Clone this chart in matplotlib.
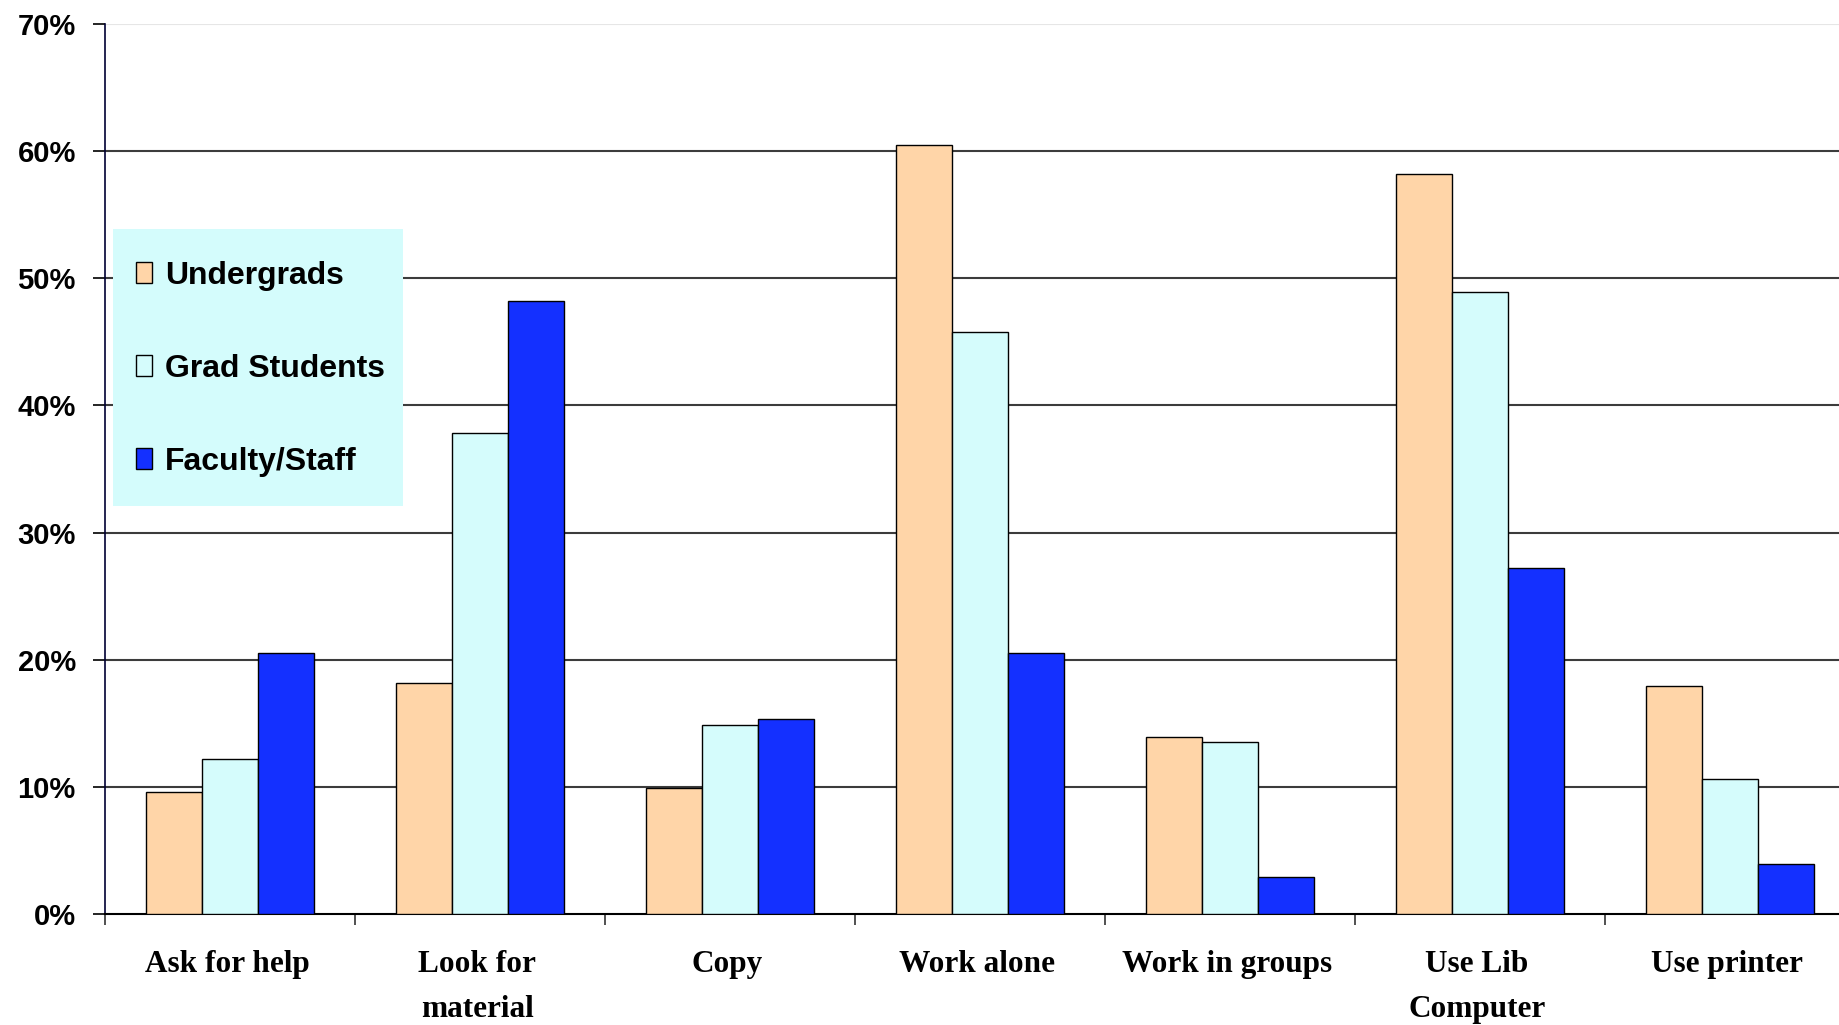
"""
library_use_chart.py
"""

import numpy as np

import matplotlib.pyplot as plt
from matplotlib.patches import Rectangle
from matplotlib.ticker import PercentFormatter, FixedLocator
from matplotlib.transforms import ScaledTranslation


categories = [
    "Ask for help",
    "Look for\nmaterial",
    "Copy",
    "Work alone",
    "Work in groups",
    "Use Lib\nComputer",
    "Use printer",
]

undergrads = [9.6, 18.2, 9.9, 60.5, 13.9, 58.2, 17.9]
grad_students = [12.2, 37.8, 14.9, 45.8, 13.5, 48.9, 10.6]
faculty_staff = [20.5, 48.2, 15.3, 20.5, 2.9, 27.2, 3.9]

series_names = ["Undergrads", "Grad Students", "Faculty/Staff"]

colors = ["#FFD5A8", "#D5FCFC", "#1430FF"]


# -------------------------
# Figure / axes
# -------------------------

W, H = 1839, 1025

fig = plt.figure(figsize=(W / 100, H / 100), dpi=100)

ax = fig.add_axes([105 / W, (H - 914) / H, 1 - 105 / W, (914 - 24) / H])

x = np.arange(len(categories))

bar_w = 0.225

series = [undergrads, grad_students, faculty_staff]

for i, (vals, name, col) in enumerate(zip(series, series_names, colors)):

    ax.bar(
        x + (i - 1) * bar_w,
        np.array(vals) / 100,
        width=bar_w,
        color=col,
        edgecolor="black",
        linewidth=1.0,
        label=name,
        zorder=3,
    )

# -------------------------
# Axes styling
# -------------------------

ax.set_xlim(-0.5, -0.5 + (W - 105) / 250)
ax.set_ylim(0, 0.70)

ax.set_yticks(np.arange(0, 0.71, 0.1))
ax.yaxis.set_major_formatter(PercentFormatter(1.0, decimals=0))

for yv in np.arange(0.1, 0.61, 0.1):
    ax.axhline(yv, color="#3c3c3c", linewidth=1.5, zorder=1)
ax.axhline(0.70, color="#e6e6e6", linewidth=1.5, zorder=1)

for side in ["top", "right"]:
    ax.spines[side].set_visible(False)

ax.spines["left"].set_color("#000033")
ax.spines["left"].set_linewidth(1.2)
ax.spines["bottom"].set_color("black")
ax.spines["bottom"].set_linewidth(1.5)

ax.tick_params(axis="y", length=9, width=1.2, pad=12, colors="black")

for lab in ax.get_yticklabels():
    lab.set_fontfamily("Liberation Sans")
    lab.set_fontweight("bold")
    lab.set_fontsize(21)

# category labels at group centers, small ticks at group boundaries
ax.set_xticks(x)
ax.set_xticklabels(
    categories,
    fontfamily="Liberation Serif",
    fontweight="bold",
    fontsize=22.5,
    linespacing=1.72,
)
ax.tick_params(axis="x", which="major", length=0, pad=26)

shift = ScaledTranslation(-3 / 100, 0, fig.dpi_scale_trans)
for lab in ax.get_xticklabels():
    lab.set_transform(lab.get_transform() + shift)

ax.xaxis.set_minor_locator(FixedLocator(np.arange(-0.5, 7.0, 1.0)))
ax.tick_params(axis="x", which="minor", length=8, width=1.2, color="#333333")

# -------------------------
# Legend
# -------------------------

ax.add_patch(
    Rectangle(
        (113 / W, 1 - 506 / H),
        (403 - 113) / W,
        (506 - 229) / H,
        transform=fig.transFigure,
        facecolor="#D4FCFC",
        edgecolor="none",
        zorder=4,
        clip_on=False,
    )
)

leg = ax.legend(
    loc="upper left",
    bbox_to_anchor=(136 / W, 1 - 261 / H),
    bbox_transform=fig.transFigure,
    prop={"family": "Liberation Sans", "weight": "bold", "size": 23},
    frameon=False,
    handlelength=0.5,
    handleheight=0.65,
    handletextpad=0.4,
    labelspacing=1.97,
    borderpad=0,
    borderaxespad=0,
)
leg.set_zorder(5)

fig.savefig("out.png", dpi=100)

plt.close(fig)
